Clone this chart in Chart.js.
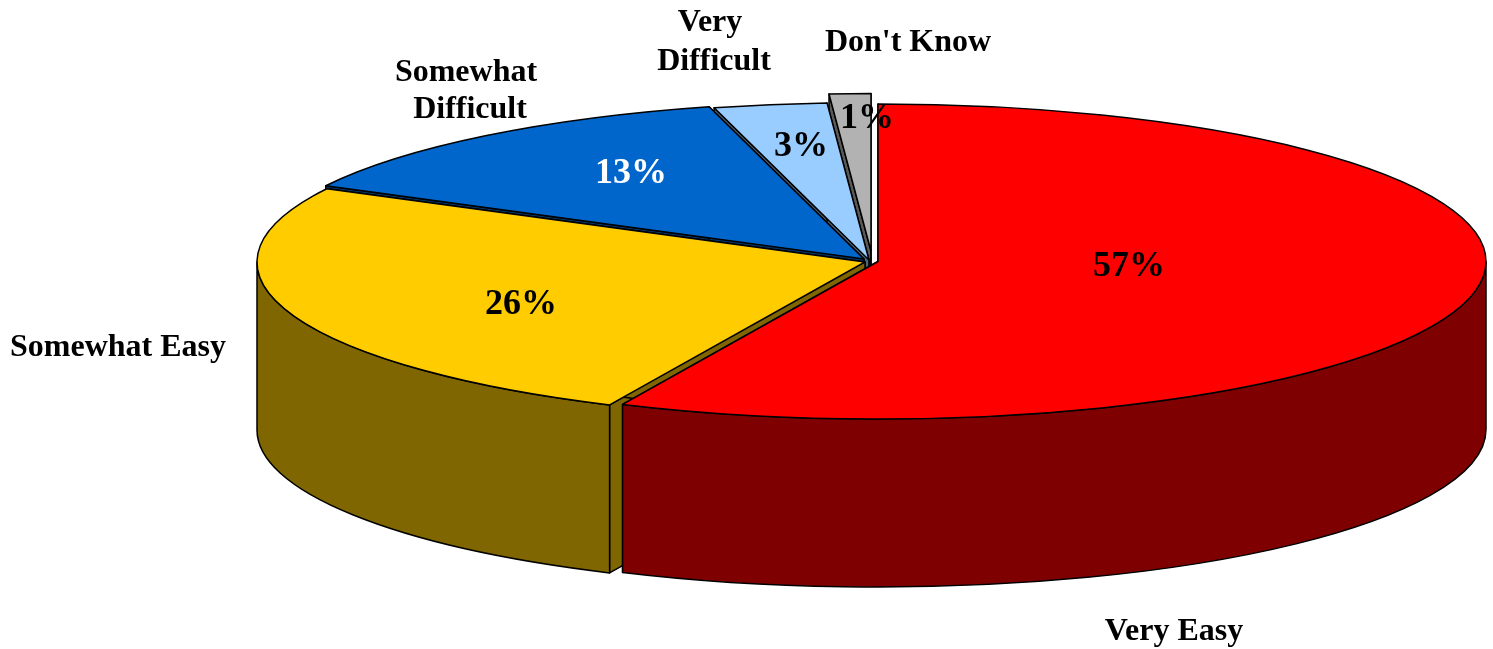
<!DOCTYPE html>
<html>
<head>
<meta charset="utf-8">
<title>Pie chart</title>
<script src="https://cdn.jsdelivr.net/npm/chart.js@4/dist/chart.umd.min.js"></script>
<style>
    html, body { margin: 0; padding: 0; background: #fff; }
    canvas { display: block; }
</style>
</head>
<body>
<canvas id="pieChart" width="1493" height="649"></canvas>
<script>
// Chart data
const categories = ['Very Easy', 'Somewhat Easy', 'Somewhat Difficult', 'Very Difficult', "Don't Know"];
const shares = [56.9, 25.8, 13.2, 3, 1.1];

// Colours
const topColors = ['#ff0000', '#ffcc00', '#0066cc', '#99ccff', '#b2b2b2'];
const sideColors = ['#7f0000', '#806600', '#003366', '#4d6680', '#595959'];
const shareColors = ['#000', '#000', '#fff', '#000', '#000'];

// Layout of the tilted pie
const radius = 608;
const tilt = 0.259;
const depth = 168;
const sliceCentres = [[878, 261.5], [865, 262], [864, 259], [869, 260], [871, 251]];
const shareSpots = [[1129, 267], [521, 305], [631, 174], [801, 147], [867, 119]];
const nameSpots = [
    [[1174, 632]],
    [[118, 348]],
    [[466, 73], [470, 110]],
    [[710, 23], [714, 62]],
    [[908, 43]]
];
const nameLines = [['Very Easy'], ['Somewhat Easy'], ['Somewhat', 'Difficult'], ['Very', 'Difficult'], ["Don't Know"]];

const backToFront = [4, 3, 2, 1, 0];

function rimX(cx, angle) { return cx + radius * Math.cos(angle); }
function rimY(cy, angle) { return cy + radius * tilt * Math.sin(angle); }

// Flat face along one cut of the slice, running from the centre to the rim
function drawCutFace(ctx, cx, cy, angle) {
    ctx.beginPath();
    ctx.moveTo(cx, cy);
    ctx.lineTo(rimX(cx, angle), rimY(cy, angle));
    ctx.lineTo(rimX(cx, angle), rimY(cy, angle) + depth);
    ctx.lineTo(cx, cy + depth);
    ctx.closePath();
    ctx.fill();
    ctx.stroke();
}

// Curved outer wall, only the part that faces the viewer
function drawWall(ctx, cx, cy, startAngle, endAngle) {
    const from = Math.max(startAngle, 0);
    const to = Math.min(endAngle, Math.PI);
    if (to <= from) return;
    ctx.beginPath();
    ctx.ellipse(cx, cy, radius, radius * tilt, 0, from, to);
    ctx.ellipse(cx, cy + depth, radius, radius * tilt, 0, to, from, true);
    ctx.closePath();
    ctx.fill();
    ctx.stroke();
}

const tiltedPie = {
    id: 'tiltedPie',
    beforeDatasetDraw(chart) {
        const ctx = chart.ctx;
        const arcs = chart.getDatasetMeta(0).data;

        ctx.save();
        ctx.lineWidth = 1.5;
        ctx.strokeStyle = '#000';
        ctx.lineJoin = 'round';

        // Sides first, tops go over them
        backToFront.forEach(i => {
            const arc = arcs[i];
            const [cx, cy] = sliceCentres[i];
            ctx.fillStyle = sideColors[i];
            drawCutFace(ctx, cx, cy, arc.startAngle);
            drawCutFace(ctx, cx, cy, arc.endAngle);
            drawWall(ctx, cx, cy, arc.startAngle, arc.endAngle);
        });

        backToFront.forEach(i => {
            const arc = arcs[i];
            const [cx, cy] = sliceCentres[i];

            ctx.save();
            ctx.translate(cx, cy);
            ctx.scale(1, tilt);
            ctx.translate(-arc.x, -arc.y);
            arc.draw(ctx);
            ctx.restore();

            ctx.beginPath();
            ctx.moveTo(cx, cy);
            ctx.ellipse(cx, cy, radius, radius * tilt, 0, arc.startAngle, arc.endAngle);
            ctx.closePath();
            ctx.stroke();
        });
        ctx.restore();

        return false;
    },
    afterDatasetsDraw(chart) {
        const ctx = chart.ctx;
        ctx.save();
        ctx.textAlign = 'center';
        ctx.textBaseline = 'middle';

        ctx.font = 'bold 36px "Liberation Serif"';
        shares.forEach((value, i) => {
            ctx.fillStyle = shareColors[i];
            ctx.fillText(Math.round(value) + '%', shareSpots[i][0], shareSpots[i][1]);
        });

        ctx.font = 'bold 32px "Liberation Serif"';
        ctx.fillStyle = '#000';
        nameLines.forEach((lines, i) => {
            lines.forEach((line, j) => {
                ctx.fillText(line, nameSpots[i][j][0], nameSpots[i][j][1]);
            });
        });
        ctx.restore();
    }
};

new Chart(document.getElementById('pieChart').getContext('2d'), {
    type: 'pie',
    data: {
        labels: categories,
        datasets: [{
            data: shares,
            backgroundColor: topColors,
            borderWidth: 0
        }]
    },
    options: {
        responsive: false,
        animation: false,
        radius: radius,
        layout: { padding: 0 },
        plugins: {
            legend: { display: false },
            tooltip: { enabled: false }
        }
    },
    plugins: [tiltedPie]
});
</script>
</body>
</html>
